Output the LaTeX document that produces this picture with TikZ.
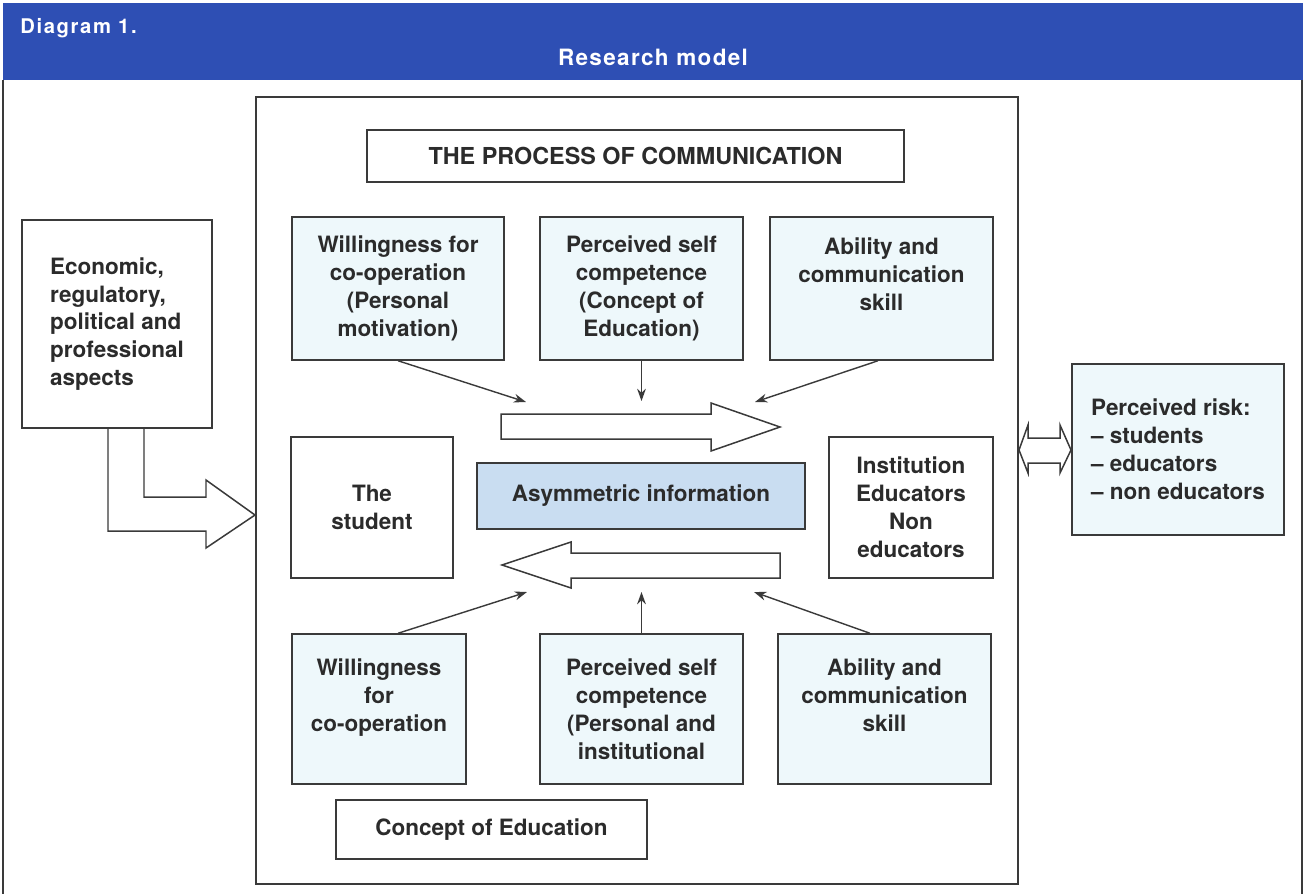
\documentclass[tikz,border=0pt]{standalone}
\usepackage{fontspec}
\setmainfont{TeX Gyre Heros}
\usetikzlibrary{arrows.meta}
\definecolor{hdrblue}{HTML}{2E4FB4}
\definecolor{pale}{HTML}{EEF8FB}
\definecolor{asym}{HTML}{C9DDF1}
\definecolor{ink}{HTML}{2B2B2B}
\definecolor{edge}{HTML}{3A3A3A}

\begin{document}
\begin{tikzpicture}[x=0.02cm, y=0.02cm]
\tikzstyle{every node}+=[inner sep=0pt]
\tikzstyle{box}=[draw=edge, line width=0.85pt, fill=white, align=center, text=ink, font=\fontsize{12.8}{15.9}\selectfont\bfseries]
\tikzstyle{cbox}=[box, fill=pale]
\tikzstyle{link}=[draw=edge, line width=0.8pt, -{Stealth[length=7pt,width=5pt]}]
\tikzstyle{fat}=[draw=edge, line width=0.85pt, fill=white]
\useasboundingbox (0,0) rectangle (1309,-894);

% header
\fill[hdrblue] (3,-3) rectangle (1303,-80);
\draw[edge, line width=0.8pt] (3,-80) -- (3,-894) (1302,-80) -- (1302,-894);
\node[anchor=west, text=white, font=\fontsize{11.5}{13}\selectfont\bfseries\addfontfeature{LetterSpace=8}] (diag) at (20,-28) {Diagram 1.};
\node[text=white, font=\fontsize{12.8}{15}\selectfont\bfseries\addfontfeature{LetterSpace=6}] (title) at (653,-57) {Research model};

% frame and boxes
\node[box, minimum width=15.24cm, minimum height=15.74cm] (main) at (637,-490.5) {};
\draw[fat] (144,-428) -- (144,-497) -- (206,-497) -- (206,-480) -- (255,-515) -- (206,-548) -- (206,-531) -- (108,-531) -- (108,-428);
\node[box, minimum width=10.74cm, minimum height=1.04cm, font=\fontsize{13.3}{16}\selectfont\bfseries] (proc) at (635.5,-156) {THE PROCESS OF COMMUNICATION};
\node[cbox, minimum width=4.24cm, minimum height=2.86cm] (tl) at (398,-288.5) {Willingness for\\co-operation\\(Personal\\motivation)};
\node[cbox, minimum width=4.06cm, minimum height=2.86cm] (tm) at (641.5,-288.5) {Perceived self\\competence\\(Concept of\\Education)};
\node[cbox, minimum width=4.46cm, minimum height=2.86cm] (tr) at (881.5,-288.5) {Ability and\\communication\\skill\\\mbox{}};
\node[box, minimum width=3.8cm, minimum height=4.16cm, align=left] (econ) at (117,-324) {Economic,\\regulatory,\\political and\\professional\\aspects};
\node[cbox, minimum width=4.24cm, minimum height=3.42cm, align=left] (risk) at (1178,-449.5) {Perceived risk:\\– students\\– educators\\– non educators};
\node[box, minimum width=3.24cm, minimum height=2.82cm] (student) at (372,-507.5) {The\\student};
\node[box, fill=asym, minimum width=6.56cm, minimum height=1.32cm] (asymm) at (641,-496) {Asymmetric information};
\node[box, minimum width=3.28cm, minimum height=2.82cm] (inst) at (911,-507.5) {Institution\\Educators\\Non\\educators};
\node[cbox, minimum width=3.48cm, minimum height=3cm] (bl) at (379,-709) {Willingness\\for\\co-operation\\\mbox{}};
\node[cbox, minimum width=4.06cm, minimum height=3cm] (bm) at (641.5,-709) {Perceived self\\competence\\(Personal and\\institutional};
\node[cbox, minimum width=4.26cm, minimum height=3cm] (br) at (884.5,-709) {Ability and\\communication\\skill\\\mbox{}};
\node[box, minimum width=6.22cm, minimum height=1.18cm] (concept) at (491.5,-829.5) {Concept of Education};

% block arrows
\draw[fat] (501,-414) -- (711,-414) -- (711,-403) -- (780,-427) -- (711,-451) -- (711,-439) -- (501,-439) -- cycle;
\draw[fat] (780,-553) -- (571,-553) -- (571,-542) -- (502,-565) -- (571,-588) -- (571,-578) -- (780,-578) -- cycle;
\draw[fat] (1019,-450) -- (1028,-425) -- (1028,-438) -- (1060,-438) -- (1060,-425) -- (1071,-450) -- (1060,-473) -- (1060,-463) -- (1028,-463) -- (1028,-473) -- cycle;

% connectors
\coordinate (in1) at (526,-402);
\coordinate (in2) at (641.5,-401);
\coordinate (in3) at (755,-402);
\coordinate (out1) at (527,-592);
\coordinate (out2) at (641.5,-592);
\coordinate (out3) at (754,-592);
\draw[link] (tl.south) -- (in1);
\draw[link] (tm.south) -- (in2);
\draw[link] ([xshift=-0.07cm]tr.south) -- (in3);
\draw[link] ([xshift=0.38cm]bl.north) -- (out1);
\draw[link] (bm.north) -- (out2);
\draw[link] ([xshift=-0.29cm]br.north) -- (out3);
\end{tikzpicture}
\end{document}
